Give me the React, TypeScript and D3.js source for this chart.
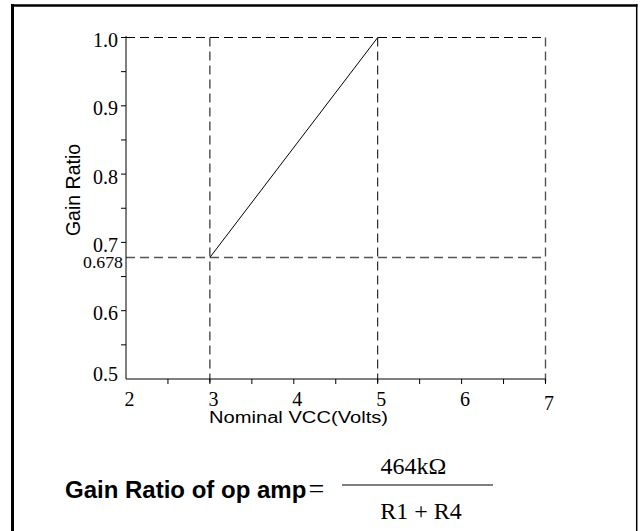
import React from "react";
import * as d3 from "d3";

// ---- data ----
const vccValues = [3, 5];
const gainValues = [0.678, 1.0];
const xTickLabels = [2, 3, 4, 5, 6, 7];
const yTickLabels = [0.5, 0.6, 0.7, 0.8, 0.9, 1.0];
const guideX = [3, 5, 7];
const guideY = [0.678, 1.0];
const markerLabel = "0.678";
const xTitle = "Nominal VCC(Volts)";
const yTitle = "Gain Ratio";
const eqLeft = "Gain Ratio of op amp";
const eqNumerator = "464kΩ";
const eqDenominator = "R1 + R4";

const SERIF = "'Liberation Serif', 'Times New Roman', serif";
const SANS = "'Liberation Sans', Arial, sans-serif";

export default function App() {
  const W = 640;
  const H = 531;
  const x = d3.scaleLinear().domain([2, 7]).range([126, 545.5]);
  const y = d3.scaleLinear().domain([0.5, 1.0]).range([379, 37.5]);
  const x0 = x(2);
  const y0 = y(0.5);
  const xMinor = x.ticks(10).filter((t) => t > 2);
  const yMinor = y.ticks(10).filter((t) => t > 0.5);
  const line = d3
    .line<number>()
    .x((_, i) => x(vccValues[i]))
    .y((d) => y(d));
  const dash = "9,5";
  const lastX = xTickLabels[xTickLabels.length - 1];

  return (
    <svg
      width={W}
      height={H}
      style={{ position: "fixed", left: 0, top: 0, background: "#fff" }}
    >
      <rect x={0} y={0} width={W} height={H} fill="#fff" />
      {/* frame */}
      <line x1={12.5} x2={12.5} y1={4} y2={H} stroke="#000" strokeWidth={3} />
      <line x1={11} x2={637.5} y1={5.5} y2={5.5} stroke="#000" strokeWidth={2.6} />
      <line x1={636.7} x2={636.7} y1={4} y2={H} stroke="#000" strokeWidth={1.5} />

      {/* guide lines */}
      {guideY.map((g, i) => (
        <line
          key={"gy" + i}
          x1={x0}
          x2={x(7)}
          y1={y(g)}
          y2={y(g)}
          stroke={g === 1.0 ? "#000" : "#555"}
          strokeWidth={g === 1.0 ? 1 : 1.4}
          strokeDasharray={dash}
        />
      ))}
      {guideX.map((g, i) => (
        <line
          key={"gx" + i}
          x1={x(g)}
          x2={x(g)}
          y1={y(1.0)}
          y2={y0 + 5}
          stroke={g === 7 ? "#555" : "#000"}
          strokeWidth={g === 7 ? 1.4 : 1}
          strokeDasharray={dash}
        />
      ))}

      {/* axes */}
      <line x1={x0} x2={x0} y1={y(1.0) - 1.5} y2={y0} stroke="#000" strokeWidth={1} />
      <line x1={x0} x2={x(7)} y1={y0} y2={y0} stroke="#000" strokeWidth={1} />
      {yMinor.map((t, i) => (
        <line key={"yt" + i} x1={x0 - 5} x2={x0} y1={y(t)} y2={y(t)} stroke="#000" strokeWidth={1} />
      ))}
      {xMinor.map((t, i) => (
        <line key={"xt" + i} x1={x(t)} x2={x(t)} y1={y0} y2={y0 + 5} stroke="#000" strokeWidth={1} />
      ))}

      {/* data line */}
      <path d={line(gainValues) || ""} fill="none" stroke="#000" strokeWidth={1} />

      {/* y tick labels */}
      {yTickLabels.map((t, i) => (
        <text
          key={"yl" + i}
          x={118}
          y={Math.min(y(t) + 9.5, 380.5)}
          textAnchor="end"
          fontFamily={SERIF}
          fontSize={20}
        >
          {t.toFixed(1)}
        </text>
      ))}
      <text
        x={123}
        y={y(guideY[0]) + 10.5}
        textAnchor="end"
        fontFamily={SERIF}
        fontSize={16}
        textLength={40}
        lengthAdjust="spacingAndGlyphs"
      >
        {markerLabel}
      </text>

      {/* x tick labels */}
      {xTickLabels.map((t, i) => (
        <text
          key={"xl" + i}
          x={x(t) + 3.5}
          y={y0 + 26.5 + (t === lastX ? 4 : 0)}
          textAnchor="middle"
          fontFamily={SERIF}
          fontSize={20}
        >
          {t}
        </text>
      ))}

      {/* axis titles */}
      <text
        x={209}
        y={423}
        fontFamily={SANS}
        fontSize={16}
        textLength={179}
        lengthAdjust="spacingAndGlyphs"
      >
        {xTitle}
      </text>
      <text
        transform="translate(80,190) rotate(-90)"
        textAnchor="middle"
        fontFamily={SANS}
        fontSize={19.5}
      >
        {yTitle}
      </text>

      {/* equation */}
      <text x={65} y={498} fontFamily={SANS} fontSize={24} fontWeight="bold">
        {eqLeft}
      </text>
      <text x={316.5} y={498} textAnchor="middle" fontFamily={SERIF} fontSize={28}>
        =
      </text>
      <line x1={342} x2={493} y1={485} y2={485} stroke="#000" strokeWidth={1.2} />
      <text x={413.5} y={474} textAnchor="middle" fontFamily={SERIF} fontSize={24}>
        {eqNumerator}
      </text>
      <text x={421} y={519} textAnchor="middle" fontFamily={SERIF} fontSize={24}>
        {eqDenominator}
      </text>
    </svg>
  );
}
